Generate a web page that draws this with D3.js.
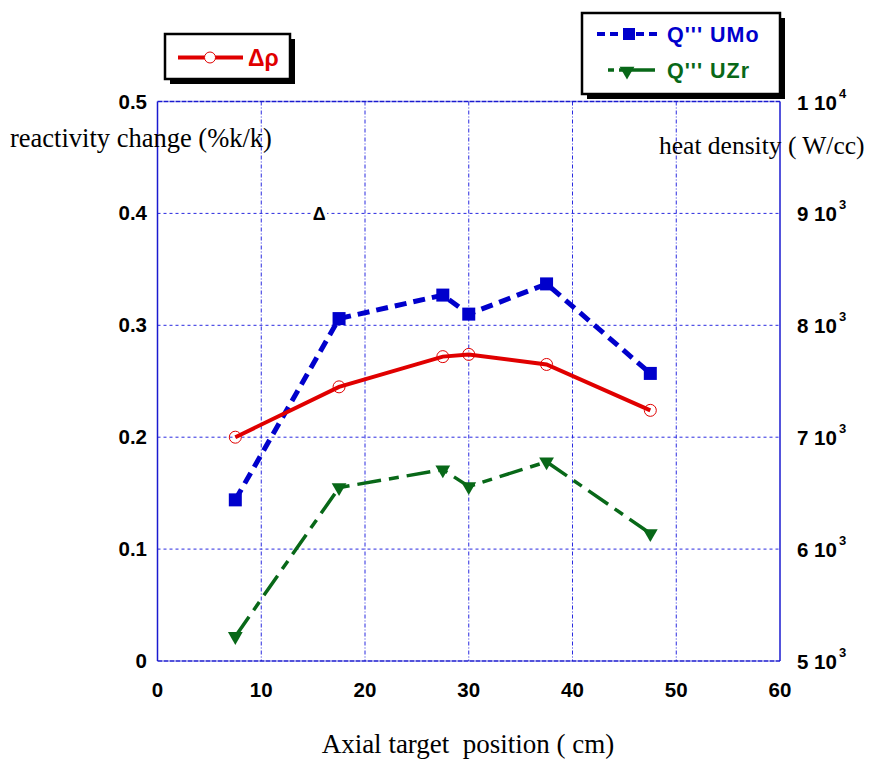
<!DOCTYPE html>
<html>
<head>
<meta charset="utf-8">
<script src="https://cdn.jsdelivr.net/npm/d3@7"></script>
<style>
  html, body { margin: 0; padding: 0; background: #fff; }
  svg { display: block; }
</style>
</head>
<body>
<svg id="chart" width="875" height="762"></svg>
<script>
// Axial target position (cm)
const positions = [7.5, 17.5, 27.5, 30, 37.5, 47.5];
// Reactivity change (%k/k)
const deltaRho = [0.200, 0.245, 0.272, 0.274, 0.265, 0.224];
// Heat density (W/cc)
const qUMo = [6440, 8060, 8270, 8100, 8370, 7570];
const qUZr = [5220, 6550, 6710, 6560, 6780, 6140];

const xTicks = [0, 10, 20, 30, 40, 50, 60];
const leftTicks = [0, 0.1, 0.2, 0.3, 0.4, 0.5];
const rightTicks = [5000, 6000, 7000, 8000, 9000, 10000];

const svg = d3.select("#chart");
const plotL = 157.5, plotR = 780, plotT = 101.5, plotB = 661;

const x = d3.scaleLinear().domain([0, 60]).range([plotL, plotR]);
const yL = d3.scaleLinear().domain([0, 0.5]).range([plotB, plotT]);
const yR = d3.scaleLinear().domain([5000, 10000]).range([plotB, plotT]);

const gridBlue = "#2a2ae0";
const frameBlue = "#1a1ad0";
const red = "#e00000";
const blue = "#0000cc";
const green = "#086818";
const boldFont = "Liberation Sans, Arial, sans-serif";
const serifFont = "Liberation Serif, Times New Roman, serif";
const tickSize = 20.5;

// grid lines
const grid = svg.append("g");
grid.selectAll("line.v").data(xTicks.slice(1, -1)).join("line")
  .attr("class", "v")
  .attr("x1", d => x(d)).attr("x2", d => x(d))
  .attr("y1", plotT).attr("y2", plotB)
  .attr("stroke", gridBlue).attr("stroke-width", 1)
  .attr("stroke-dasharray", "4,2,1,2");
grid.selectAll("line.h").data(leftTicks.slice(1, -1)).join("line")
  .attr("class", "h")
  .attr("x1", plotL).attr("x2", plotR)
  .attr("y1", d => yL(d)).attr("y2", d => yL(d))
  .attr("stroke", gridBlue).attr("stroke-width", 1)
  .attr("stroke-dasharray", "3,3");

// plot frame
svg.append("line").attr("x1", plotL).attr("x2", plotR).attr("y1", plotT).attr("y2", plotT)
  .attr("stroke", frameBlue).attr("stroke-width", 1.5).attr("stroke-dasharray", "5,1");
svg.append("line").attr("x1", plotL).attr("x2", plotR).attr("y1", plotB).attr("y2", plotB)
  .attr("stroke", frameBlue).attr("stroke-width", 1.5).attr("stroke-dasharray", "5,1");
svg.append("line").attr("x1", plotL).attr("x2", plotL).attr("y1", plotT).attr("y2", plotB)
  .attr("stroke", frameBlue).attr("stroke-width", 1.5);
svg.append("line").attr("x1", plotR).attr("x2", plotR).attr("y1", plotT).attr("y2", plotB)
  .attr("stroke", frameBlue).attr("stroke-width", 1.5);

// left tick labels
svg.append("g").selectAll("text").data(leftTicks).join("text")
  .attr("x", 147).attr("y", d => yL(d) + 7)
  .attr("text-anchor", "end")
  .attr("font-family", boldFont).attr("font-weight", "bold").attr("font-size", tickSize)
  .text(d => d3.format(d === 0 ? "d" : ".1f")(d));

// bottom tick labels
svg.append("g").selectAll("text").data(xTicks).join("text")
  .attr("x", d => x(d)).attr("y", 697)
  .attr("text-anchor", "middle")
  .attr("font-family", boldFont).attr("font-weight", "bold").attr("font-size", tickSize)
  .text(d => d);

// right tick labels in "m 10^e" form
const rl = svg.append("g").selectAll("text").data(rightTicks).join("text")
  .attr("x", 797).attr("y", d => yR(d) + 8)
  .attr("font-family", boldFont).attr("font-weight", "bold").attr("font-size", tickSize);
rl.append("tspan").text(d => {
  const e = Math.floor(Math.log10(d));
  return (d / Math.pow(10, e)) + " 10";
});
rl.append("tspan").attr("dy", -12).attr("dx", 2).attr("font-size", 13)
  .text(d => Math.floor(Math.log10(d)));

// axis titles
svg.append("text").attr("x", 10).attr("y", 147)
  .attr("font-family", serifFont).attr("font-size", 26.5)
  .text("reactivity change (%k/k)");
svg.append("text").attr("x", 659).attr("y", 154)
  .attr("font-family", serifFont).attr("font-size", 25.5)
  .text("heat density ( W/cc)");
svg.append("text").attr("x", 468).attr("y", 753).attr("text-anchor", "middle")
  .attr("font-family", serifFont).attr("font-size", 27)
  .text("Axial target \u00a0position ( cm)");

// small Δ annotation
svg.append("rect").attr("x", 311).attr("y", 204).attr("width", 16).attr("height", 16).attr("fill", "#fff");
svg.append("text").attr("x", x(15.5) + 1).attr("y", yL(0.4) + 7).attr("text-anchor", "middle")
  .attr("font-family", boldFont).attr("font-weight", "bold").attr("font-size", 18)
  .text("Δ");

// series lines
const rhoPts = positions.map((p, i) => [x(p), yL(deltaRho[i])]);
const umoPts = positions.map((p, i) => [x(p), yR(qUMo[i])]);
const uzrPts = positions.map((p, i) => [x(p), yR(qUZr[i])]);
const line = d3.line();

svg.append("path").attr("d", line(uzrPts)).attr("fill", "none")
  .attr("stroke", green).attr("stroke-width", 3.5).attr("stroke-dasharray", "24,8,10,8");
svg.append("path").attr("d", line(umoPts)).attr("fill", "none")
  .attr("stroke", blue).attr("stroke-width", 5)
  .attr("stroke-dasharray", "12,7");
svg.append("path").attr("d", line(rhoPts)).attr("fill", "none")
  .attr("stroke", red).attr("stroke-width", 4);

// markers
svg.append("g").selectAll("circle").data(rhoPts).join("circle")
  .attr("cx", d => d[0]).attr("cy", d => d[1]).attr("r", 6)
  .attr("fill", "none").attr("stroke", red).attr("stroke-width", 1);
svg.append("g").selectAll("rect").data(umoPts).join("rect")
  .attr("x", d => d[0] - 6.5).attr("y", d => d[1] - 6.5)
  .attr("width", 13).attr("height", 13).attr("fill", blue);
const tri = d3.symbol().type(d3.symbolTriangle).size(95);
svg.append("g").selectAll("path").data(uzrPts).join("path")
  .attr("transform", d => `translate(${d[0]},${d[1]}) rotate(180)`)
  .attr("d", tri).attr("fill", green);

// legend boxes with drop shadow
function legendBox(bx, by, bw, bh) {
  svg.append("rect").attr("x", bx + 5).attr("y", by + 5).attr("width", bw).attr("height", bh).attr("fill", "#000");
  svg.append("rect").attr("x", bx).attr("y", by).attr("width", bw).attr("height", bh)
    .attr("fill", "#fff").attr("stroke", "#000").attr("stroke-width", 2.5);
}

legendBox(165, 34, 125, 45);
svg.append("line").attr("x1", 178).attr("x2", 243).attr("y1", 57.5).attr("y2", 57.5)
  .attr("stroke", red).attr("stroke-width", 4);
svg.append("circle").attr("cx", 210).attr("cy", 57.5).attr("r", 5.5)
  .attr("fill", "#fff").attr("stroke", red).attr("stroke-width", 1);
svg.append("text").attr("x", 248).attr("y", 66)
  .attr("font-family", boldFont).attr("font-weight", "bold").attr("font-size", 23)
  .attr("fill", red).text("Δρ");

legendBox(582, 13, 198, 81);
svg.append("line").attr("x1", 597).attr("x2", 662).attr("y1", 34).attr("y2", 34)
  .attr("stroke", blue).attr("stroke-width", 4).attr("stroke-dasharray", "8,5");
svg.append("rect").attr("x", 623).attr("y", 28).attr("width", 12).attr("height", 12).attr("fill", blue);
svg.append("text").attr("x", 667).attr("y", 42)
  .attr("font-family", boldFont).attr("font-weight", "bold").attr("font-size", 21.5)
  .attr("letter-spacing", 1)
  .attr("fill", blue).text("Q''' UMo");
svg.append("line").attr("x1", 608).attr("x2", 655).attr("y1", 70).attr("y2", 70)
  .attr("stroke", green).attr("stroke-width", 3.5).attr("stroke-dasharray", "6,5,36");
svg.append("path").attr("transform", "translate(627,71) rotate(180)").attr("d", tri).attr("fill", green);
svg.append("text").attr("x", 667).attr("y", 78)
  .attr("font-family", boldFont).attr("font-weight", "bold").attr("font-size", 21.5)
  .attr("letter-spacing", 1)
  .attr("fill", green).text("Q''' UZr");
</script>
</body>
</html>
